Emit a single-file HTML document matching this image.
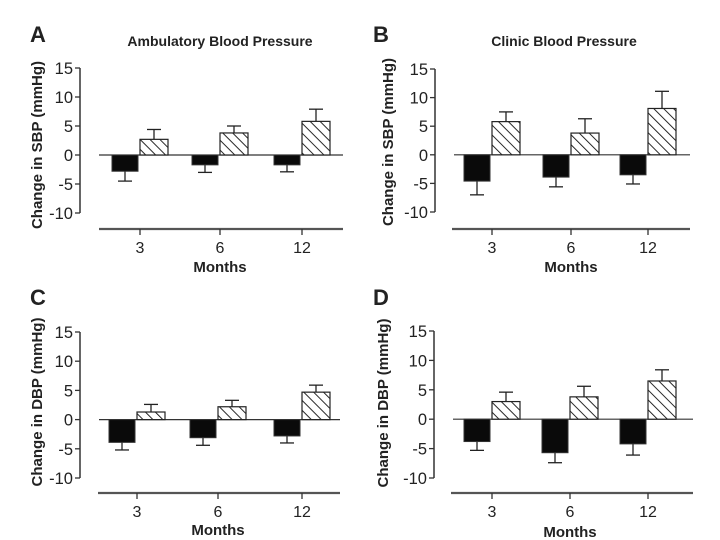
<!DOCTYPE html>
<html><head><meta charset="utf-8"><style>
html,body{margin:0;padding:0;background:#fff;width:720px;height:540px;overflow:hidden}
svg text{font-family:"Liberation Sans",Arial,sans-serif;fill:#222}
</style></head><body>
<svg id="chart" width="720" height="540" viewBox="0 0 720 540" xmlns="http://www.w3.org/2000/svg">
<defs>
<pattern id="hatch" patternUnits="userSpaceOnUse" width="7" height="7" patternTransform="rotate(-45)">
<rect width="7" height="7" fill="#fff"/><line x1="0" y1="0" x2="0" y2="7" stroke="#111" stroke-width="1.8"/>
</pattern>
</defs>
</svg>
<script>
const categories = ["3", "6", "12"];
const yTicks = [15, 10, 5, 0, -5, -10];
// Panel A: ambulatory SBP
const aBlack = [-2.8, -1.7, -1.7];
const aBlackErr = [-4.5, -3.0, -2.9];
const aHatch = [2.7, 3.8, 5.8];
const aHatchErr = [4.4, 5.0, 7.9];
// Panel B: clinic SBP
const bBlack = [-4.6, -3.9, -3.5];
const bBlackErr = [-7.0, -5.6, -5.1];
const bHatch = [5.8, 3.8, 8.1];
const bHatchErr = [7.5, 6.3, 11.1];
// Panel C: ambulatory DBP
const cBlack = [-3.9, -3.1, -2.8];
const cBlackErr = [-5.2, -4.4, -4.0];
const cHatch = [1.3, 2.2, 4.7];
const cHatchErr = [2.6, 3.3, 5.9];
// Panel D: clinic DBP
const dBlack = [-3.8, -5.7, -4.2];
const dBlackErr = [-5.3, -7.4, -6.1];
const dHatch = [3.0, 3.8, 6.5];
const dHatchErr = [4.6, 5.6, 8.4];

const svg = document.getElementById('chart');
const NS = 'http://www.w3.org/2000/svg';
function mk(tag, attrs, parent){
  const e = document.createElementNS(NS, tag);
  for (const k in attrs) e.setAttribute(k, attrs[k]);
  (parent||svg).appendChild(e);
  return e;
}
function txt(s, attrs, parent){ const t = mk('text', attrs, parent); t.textContent = s; return t; }

const panels = [
  {id:'a', letter:'A', title:'Ambulatory Blood Pressure', ytitle:'Change in SBP (mmHg)', axX:80, y15:68, yM10:213, tick:[140,220,302], base:[99,343,229], lx:30, ly:42, tx:220, ty:46, ytx:42, yty:145, monthsY:272, catY:253, black:aBlack, bErr:aBlackErr, hatch:aHatch, hErr:aHatchErr},
  {id:'b', letter:'B', title:'Clinic Blood Pressure', ytitle:'Change in SBP (mmHg)', axX:435, y15:69, yM10:212, tick:[492,571,648], base:[452,690,229], lx:373, ly:42, tx:564, ty:46, ytx:393, yty:142, monthsY:272, catY:253, black:bBlack, bErr:bBlackErr, hatch:bHatch, hErr:bHatchErr},
  {id:'c', letter:'C', title:'', ytitle:'Change in DBP (mmHg)', axX:80, y15:332, yM10:478, tick:[137,218,302], base:[98,340,493], lx:30, ly:305, tx:0, ty:0, ytx:42, yty:402, monthsY:535, catY:517, black:cBlack, bErr:cBlackErr, hatch:cHatch, hErr:cHatchErr},
  {id:'d', letter:'D', title:'', ytitle:'Change in DBP (mmHg)', axX:434, y15:331, yM10:478, tick:[492,570,648], base:[451,693,493], lx:373, ly:305, tx:0, ty:0, ytx:388, yty:403, monthsY:537, catY:517, black:dBlack, bErr:dBlackErr, hatch:dHatch, hErr:dHatchErr}
];

panels.forEach(p => {
  const g = mk('g', {});
  
  
  const y = v => p.y15 + (15 - v) * (p.yM10 - p.y15) / 25;
  const lt = txt(p.letter, {x:p.lx, y:p.ly, 'font-size':22, 'font-weight':'bold', fill:'#111'}, g);
  
  
  if (p.title){
    const tt = txt(p.title, {x:p.tx, y:p.ty, 'font-size':14, 'font-weight':'bold', 'text-anchor':'middle'}, g);
    
    
  }
  const yt = txt(p.ytitle, {x:0, y:0, 'font-size':15, 'font-weight':'bold', 'text-anchor':'middle', transform:`translate(${p.ytx},${p.yty}) rotate(-90)`}, g);
  
  
  const ya = mk('line', {x1:p.axX, x2:p.axX, y1:y(15), y2:y(-10), stroke:'#333', 'stroke-width':1.5}, g);
  
  
  yTicks.forEach(v => {
    mk('line', {x1:p.axX-5, x2:p.axX, y1:y(v), y2:y(v), stroke:'#333', 'stroke-width':1.3}, g);
    const tl = txt(String(v), {x:p.axX-7, y:y(v)+6, 'font-size':16.5, 'text-anchor':'end', fill:'#333'}, g);
    
    
  });
  const zl = mk('line', {x1:p.axX+19, x2:p.base[1], y1:y(0), y2:y(0), stroke:'#333', 'stroke-width':1.2}, g);
  
  
  const xa = mk('line', {x1:p.base[0], x2:p.base[1], y1:p.base[2], y2:p.base[2], stroke:'#555', 'stroke-width':2.2}, g);
  
  
  categories.forEach((c, i) => {
    const t = p.tick[i];
    mk('line', {x1:t, x2:t, y1:p.base[2], y2:p.base[2]+6, stroke:'#333', 'stroke-width':1.3}, g);
    const cl = txt(c, {x:t, y:p.catY, 'font-size':16, 'text-anchor':'middle', fill:'#333'}, g);
    
    
    const bv = p.black[i], be = p.bErr[i];
    const bx = t - 28, cx1 = bx + 13;
    mk('line', {x1:cx1, x2:cx1, y1:y(bv), y2:y(be), stroke:'#222', 'stroke-width':1.3}, g);
    mk('line', {x1:cx1-7, x2:cx1+7, y1:y(be), y2:y(be), stroke:'#222', 'stroke-width':1.3}, g);
    const br = mk('rect', {x:bx, y:Math.min(y(0), y(bv)), width:26, height:Math.abs(y(bv)-y(0)), fill:'#0a0a0a', stroke:'#333', 'stroke-width':1}, g);
    
    
    const hv = p.hatch[i], he = p.hErr[i];
    const hx = t, cx2 = hx + 14;
    mk('line', {x1:cx2, x2:cx2, y1:y(hv), y2:y(he), stroke:'#222', 'stroke-width':1.3}, g);
    mk('line', {x1:cx2-7, x2:cx2+7, y1:y(he), y2:y(he), stroke:'#222', 'stroke-width':1.3}, g);
    const hr = mk('rect', {x:hx, y:Math.min(y(0), y(hv)), width:28, height:Math.abs(y(hv)-y(0)), fill:'url(#hatch)', stroke:'#222', 'stroke-width':1.2}, g);
    
    
  });
  const mt = txt('Months', {x:p.tick[1], y:p.monthsY, 'font-size':15, 'font-weight':'bold', 'text-anchor':'middle'}, g);
  
  
});
</script>
</body></html>
